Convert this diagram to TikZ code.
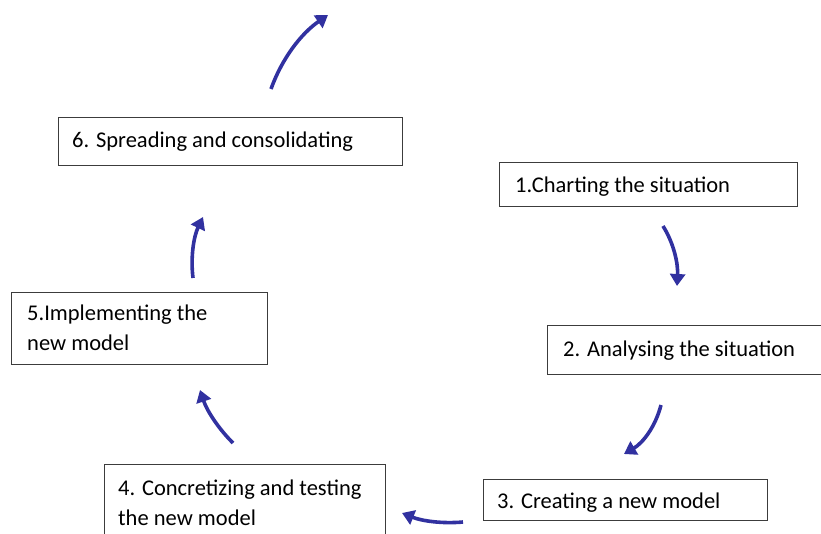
\documentclass[tikz,border=0pt]{standalone}
\usepackage{fontspec}
\setmainfont{Carlito}
\usetikzlibrary{arrows.meta}
\definecolor{arrowblue}{RGB}{49,49,160}
\definecolor{boxgray}{RGB}{60,60,60}
\begin{document}
\begin{tikzpicture}[x=1pt,y=-1pt,
  stepbox/.style={draw=boxgray,line width=1.1pt,inner sep=0pt,anchor=north west},
  boxtext/.style={anchor=base west,inner sep=0pt,align=left,font=\fontsize{22.5}{30}\selectfont},
  cyc/.style={draw=arrowblue,line width=3.6pt,-{Triangle[length=12pt,width=15pt]}}]
\useasboundingbox (0,0) rectangle (821,534);
\clip (0,0) rectangle (821,534);
% boxes
\node[stepbox,minimum width=298pt,minimum height=44pt] (b1) at (499,162) {};
\node[stepbox,minimum width=290pt,minimum height=49pt] (b2) at (547,325) {};
\node[stepbox,minimum width=284pt,minimum height=41pt] (b3) at (483,479) {};
\node[stepbox,minimum width=281pt,minimum height=90pt] (b4) at (104,464) {};
\node[stepbox,minimum width=256pt,minimum height=72pt] (b5) at (11,292) {};
\node[stepbox,minimum width=344pt,minimum height=48pt] (b6) at (58,117) {};
% texts (base = baseline of last line)
\node[boxtext] (t1) at (515,193) {1.Charting the situation};
\node[boxtext] (t2) at (563,356) {2. Analysing the situation};
\node[boxtext] (t3) at (497,508) {3. Creating a new model};
\node[boxtext] (t4) at (118,525) {4. Concretizing and testing\\the new model};
\node[boxtext] (t5) at (27,350) {5.Implementing the\\new model};
\node[boxtext] (t6) at (72,147.5) {6. Spreading and consolidating};
% arrow ends
\coordinate (a1s) at (271,89);  \coordinate (a1e) at (328,15);
\coordinate (a2s) at (663,226); \coordinate (a2e) at (677,286);
\coordinate (a3s) at (661,405); \coordinate (a3e) at (624,454);
\coordinate (a4s) at (463,522); \coordinate (a4e) at (402,513);
\coordinate (a5s) at (233,443); \coordinate (a5e) at (200,390);
\coordinate (a6s) at (193,278); \coordinate (a6e) at (203,217);
% arrows
\draw[cyc] (a1s) .. controls (282.1,58.2) and (301.1,33.6) .. (a1e);
\draw[cyc] (a2s) .. controls (674.5,244.6) and (678.1,264.6) .. (a2e);
\draw[cyc] (a3s) .. controls (655.5,426.4) and (643.1,442.8) .. (a3e);
\draw[cyc] (a4s) .. controls (442,523.9) and (421.6,520.9) .. (a4e);
\draw[cyc] (a5s) .. controls (217.8,427.9) and (206.8,410.3) .. (a5e);
\draw[cyc] (a6s) .. controls (190.4,256.7) and (193.8,236.3) .. (a6e);
\end{tikzpicture}
\end{document}
